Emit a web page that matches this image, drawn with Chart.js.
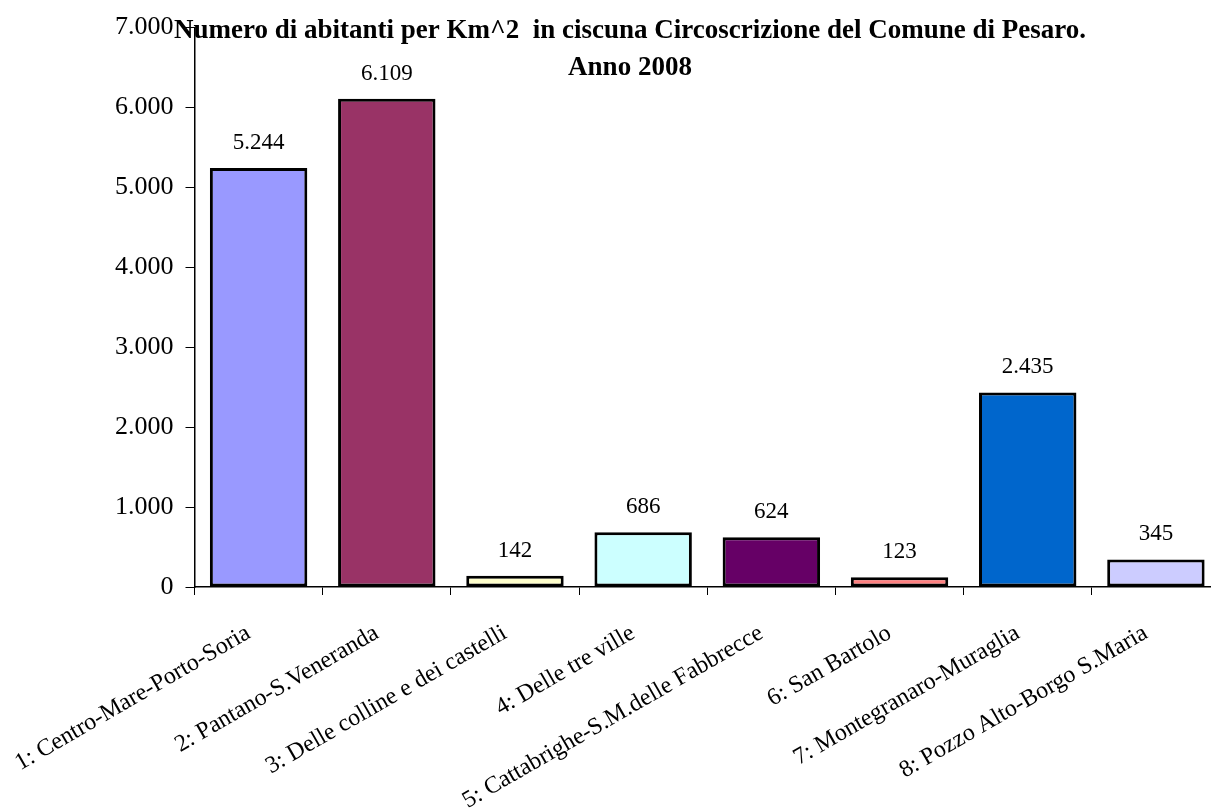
<!DOCTYPE html>
<html>
<head>
<meta charset="utf-8">
<script src="https://cdn.jsdelivr.net/npm/chart.js@4"></script>
<style>
  html, body { margin: 0; padding: 0; background: #fff; overflow: hidden; }
</style>
</head>
<body>
<canvas id="densityChart" width="1230" height="812"></canvas>
<script>
var categories = [
    '1: Centro-Mare-Porto-Soria',
    '2: Pantano-S.Veneranda',
    '3: Delle colline e dei castelli',
    '4: Delle tre ville',
    '5: Cattabrighe-S.M.delle Fabbrecce',
    '6: San Bartolo',
    '7: Montegranaro-Muraglia',
    '8: Pozzo Alto-Borgo S.Maria'
];
var abitantiKm2 = [5244, 6109, 142, 686, 624, 123, 2435, 345];
var barColors = ['#9999FF', '#993366', '#FFFFCC', '#CCFFFF', '#660066', '#FF8080', '#0066CC', '#CCCCFF'];
var titleLines = ['Numero di abitanti per Km^2  in ciscuna Circoscrizione del Comune di Pesaro.', 'Anno 2008'];

function formatIt(v) {
    return String(v).replace(/\B(?=(\d{3})+(?!\d))/g, '.');
}

var serif = '"Liberation Serif", "Times New Roman", serif';

// value labels above each bar + title drawn on top of everything
var overlayPlugin = {
    id: 'overlay',
    afterDatasetsDraw: function(chart) {
        var ctx = chart.ctx;
        var meta = chart.getDatasetMeta(0);
        ctx.save();
        ctx.fillStyle = '#000';
        ctx.font = '23px ' + serif;
        ctx.textAlign = 'center';
        ctx.textBaseline = 'alphabetic';
        meta.data.forEach(function(bar, i) {
            ctx.fillText(formatIt(chart.data.datasets[0].data[i]), bar.x, bar.y - 19);
        });
        ctx.restore();
    },
    afterDraw: function(chart) {
        var ctx = chart.ctx;
        ctx.save();
        ctx.fillStyle = '#000';
        ctx.font = 'bold 27px ' + serif;
        ctx.textAlign = 'center';
        ctx.textBaseline = 'alphabetic';
        ctx.fillText(titleLines[0], 630, 38);
        ctx.fillText(titleLines[1], 630, 75);
        ctx.restore();
    }
};

new Chart(document.getElementById('densityChart'), {
    type: 'bar',
    data: {
        labels: categories,
        datasets: [{
            data: abitantiKm2,
            backgroundColor: barColors,
            borderColor: '#000',
            borderWidth: 3,
            borderSkipped: false,
            barPercentage: 0.76,
            categoryPercentage: 1.0
        }]
    },
    plugins: [overlayPlugin],
    options: {
        responsive: false,
        animation: false,
        layout: {
            padding: { top: 25, right: 10, left: 103, bottom: 0 }
        },
        plugins: {
            legend: { display: false },
            title: { display: false },
            tooltip: { enabled: false }
        },
        scales: {
            x: {
                afterFit: function(scale) {
                    // let the rotated labels hang out like the original
                    scale.paddingLeft = 0;
                    scale.paddingRight = 0;
                    scale.height = 225;
                },
                grid: {
                    display: true,
                    drawOnChartArea: false,
                    drawTicks: true,
                    tickLength: 8,
                    color: '#000',
                    offset: true
                },
                border: { display: true, color: '#000', width: 1.5 },
                ticks: {
                    color: '#000',
                    font: { family: serif, size: 24 },
                    maxRotation: 30,
                    minRotation: 30,
                    autoSkip: false,
                    padding: 24,
                    labelOffset: -10
                }
            },
            y: {
                min: 0,
                max: 7000,
                grid: {
                    display: true,
                    drawOnChartArea: false,
                    drawTicks: true,
                    tickLength: 9,
                    color: '#000'
                },
                border: { display: true, color: '#000', width: 1.5 },
                ticks: {
                    stepSize: 1000,
                    color: '#000',
                    font: { family: serif, size: 26 },
                    padding: 12,
                    callback: function(value) { return formatIt(value); }
                }
            }
        }
    }
});
</script>
</body>
</html>
